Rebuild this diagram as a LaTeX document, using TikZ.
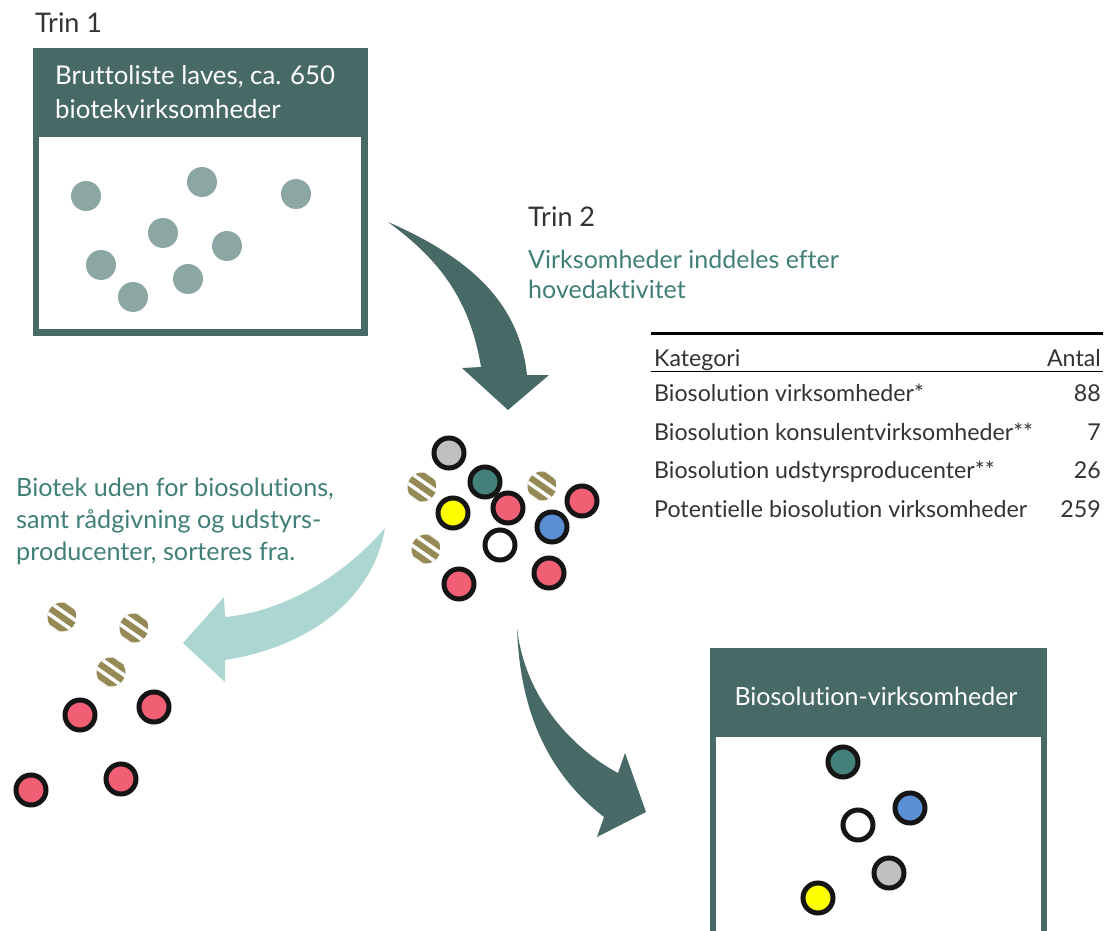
\documentclass[tikz,border=0pt]{standalone}
\usepackage{fontspec}
\setmainfont{Lato}[Ligatures=NoCommon]
\usepackage{tikz}
\definecolor{boxteal}{HTML}{476A67}
\definecolor{lightteal}{HTML}{ABD6D2}
\definecolor{greentext}{HTML}{3F7F77}
\definecolor{steptext}{HTML}{333333}
\definecolor{dotgray}{HTML}{8CA6A3}
\definecolor{ringblack}{HTML}{151515}
\definecolor{dotpink}{HTML}{F05F74}
\definecolor{dotteal}{HTML}{44817A}
\definecolor{dotblue}{HTML}{5A8FD4}
\definecolor{dotyellow}{HTML}{FFFF00}
\definecolor{dotsilver}{HTML}{C0C0C0}
\definecolor{dotolive}{HTML}{958A55}

\begin{document}
\begin{tikzpicture}[x=1pt,y=-1pt]
\tikzstyle{every node}+=[inner sep=0pt]
\tikzstyle{steplabel}=[anchor=base west, text=steptext, font=\fontsize{27}{32}\selectfont]
\tikzstyle{boxhead}=[anchor=base west, text=white, font=\fontsize{25.8}{30}\selectfont]
\tikzstyle{greenline}=[anchor=base west, text=greentext, font=\fontsize{25}{30}\selectfont]
\tikzstyle{tabtext}=[anchor=base west, text=steptext, font=\fontsize{23.2}{26}\selectfont]
\tikzstyle{tabnum}=[anchor=base east, text=steptext, font=\fontsize{23.2}{26}\selectfont]
\tikzstyle{ring}=[draw=ringblack, line width=5pt]
\useasboundingbox (0,0) rectangle (1106,931);
% trin 1
\node[steplabel] (trinA) at (35,33) {Trin 1};
\fill[boxteal] (33,48) rectangle (368,336);
\fill[white] (39,137) rectangle (361,329);
\node[boxhead] (bruttoA) at (55,85) {Bruttoliste laves, ca. 650};
\node[boxhead] (bruttoB) at (55,119) {biotekvirksomheder};
\foreach \x/\y in {86/196,202/182,296/194,163/233,227/246,101/265,188/279,133/297}
  \fill[dotgray] (\x,\y) circle (15pt);
% arrow down to the sorting
\fill[boxteal] (388,222) .. controls (480,262) and (520,310) .. (527,375)
  -- (549,375) -- (508,410) -- (462,368) -- (481,367)
  .. controls (470,300) and (440,260) .. (388,222) -- cycle;
% trin 2
\node[steplabel] (trinB) at (528,226) {Trin 2};
\node[greenline] (hovedA) at (528,268) {Virksomheder inddeles efter};
\node[greenline] (hovedB) at (528,298) {hovedaktivitet};
% table
\draw[black, line width=3pt] (651,333) -- (1103,333);
\draw[black, line width=1pt] (651,371) -- (1103,371);
\node[tabtext] (kat) at (654,366) {Kategori};
\node[tabnum] (antal) at (1101,366) {Antal};
\node[tabtext] (rowA) at (654,401) {Biosolution virksomheder*};
\node[tabnum] (numA) at (1101,401) {88};
\node[tabtext] (rowB) at (654,440) {Biosolution konsulentvirksomheder**};
\node[tabnum] (numB) at (1101,440) {7};
\node[tabtext] (rowC) at (654,478) {Biosolution udstyrsproducenter**};
\node[tabnum] (numC) at (1101,478) {26};
\node[tabtext] (rowD) at (654,517) {Potentielle biosolution virksomheder};
\node[tabnum] (numD) at (1101,517) {259};
% mixed cluster
\foreach \x/\y in {422/487,542/486,426/549,62/617,134/628,111/672} {
  \begin{scope}[shift={(\x,\y)}, rotate=-35]
    \clip (0,0) circle (14.5pt);
    \fill[dotolive] (0,0) circle (14.5pt);
    \foreach \k in {-15,-5,5,15}
      \draw[white, line width=3.5pt] (-20,\k) -- (20,\k);
  \end{scope}
}
\draw[ring, fill=dotsilver] (449,453) circle (15pt);
\draw[ring, fill=dotteal] (485,482) circle (15pt);
\draw[ring, fill=dotyellow] (453,513) circle (15pt);
\draw[ring, fill=white] (500,545) circle (15pt);
\draw[ring, fill=dotblue] (552,527) circle (15pt);
\foreach \x/\y in {508/508,582/501,549/573,459/584}
  \draw[ring, fill=dotpink] (\x,\y) circle (15pt);
% sorted out
\node[greenline, font=\fontsize{25.2}{30}\selectfont] (fraA) at (16,496) {Biotek uden for biosolutions,};
\node[greenline, font=\fontsize{25.2}{30}\selectfont] (fraB) at (16,528) {samt rådgivning og udstyrs-};
\node[greenline, font=\fontsize{25.2}{30}\selectfont] (fraC) at (16,560) {producenter, sorteres fra.};
\fill[lightteal] (385,528) .. controls (340,580) and (280,612) .. (225,617)
  -- (224,597) -- (183,643) -- (225,682) -- (225,660)
  .. controls (320,645) and (375,590) .. (385,528) -- cycle;
\foreach \x/\y in {80/715,154/707,31/790,121/779}
  \draw[ring, fill=dotpink] (\x,\y) circle (15pt);
% arrow to the result
\fill[boxteal] (517,628) .. controls (520,715) and (550,775) .. (604,817)
  -- (597,837) -- (646,812) -- (625,753) -- (618,773)
  .. controls (575,750) and (525,700) .. (517,628) -- cycle;
% result box
\fill[boxteal] (710,648) rectangle (1047,940);
\fill[white] (716,737) rectangle (1041,940);
\node[anchor=base, text=white, font=\fontsize{25}{28}\selectfont] (resultat) at (876,705) {Biosolution-virksomheder};
\draw[ring, fill=dotteal] (843,762) circle (15pt);
\draw[ring, fill=dotblue] (910,808) circle (15pt);
\draw[ring, fill=white] (858,825) circle (15pt);
\draw[ring, fill=dotsilver] (889,873) circle (15pt);
\draw[ring, fill=dotyellow] (818,898) circle (15pt);
\end{tikzpicture}
\end{document}
